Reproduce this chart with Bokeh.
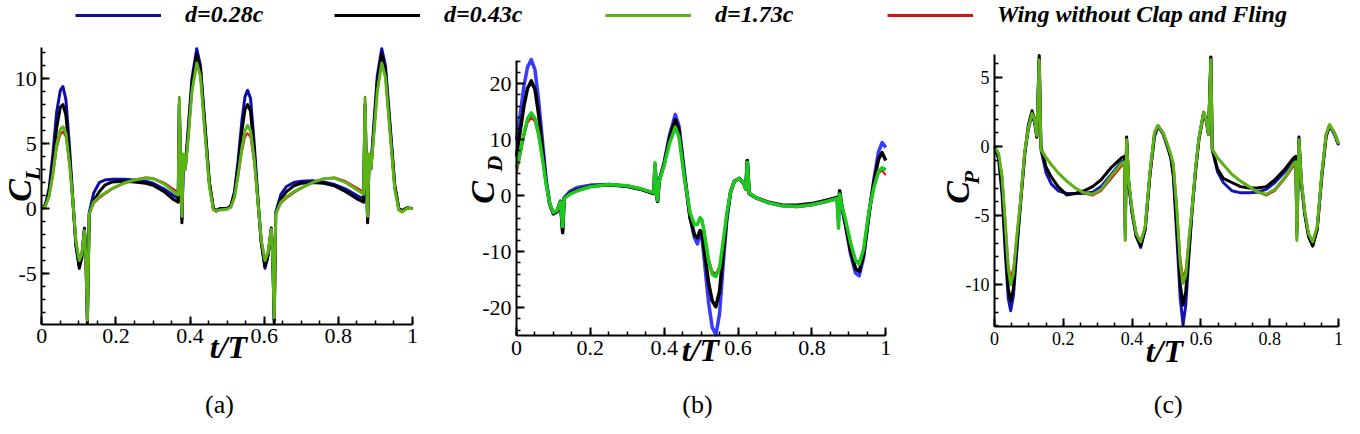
from bokeh.plotting import figure
from bokeh.layouts import column, row
from bokeh.models import (Range1d, SingleIntervalTicker, Label, Legend, LegendItem,
                          CustomJSTickFormatter)
from bokeh.embed import file_html
from bokeh.resources import INLINE

# ---------------- data ----------------
series_names = ["d=0.28c", "d=0.43c", "d=1.73c", "Wing without Clap and Fling"]

# (a) lift coefficient C_L
t_cl = [0.000, 0.010, 0.020, 0.030, 0.040, 0.050, 0.057, 0.065, 0.075, 0.084,
        0.092, 0.101, 0.108, 0.115, 0.119, 0.123, 0.128, 0.140, 0.155, 0.170,
        0.190, 0.220, 0.250, 0.280, 0.300, 0.330, 0.355, 0.368, 0.371, 0.375,
        0.378, 0.382, 0.387, 0.395, 0.405, 0.418, 0.428, 0.440, 0.452, 0.463,
        0.470, 0.480, 0.500, 0.510, 0.520, 0.530, 0.540, 0.548, 0.555, 0.563,
        0.573, 0.583, 0.592, 0.602, 0.610, 0.619, 0.623, 0.627, 0.631, 0.645,
        0.660, 0.680, 0.700, 0.730, 0.760, 0.790, 0.820, 0.850, 0.868, 0.872,
        0.876, 0.879, 0.883, 0.888, 0.895, 0.905, 0.917, 0.927, 0.940, 0.952,
        0.963, 0.972, 0.985, 1.000]
cl_d028 = [0.0, 0.3, 1.6, 4.2, 7.4, 9.1, 9.4, 8.4, 4.6, 0.6,
           -2.8, -4.4, -3.6, -1.5, -3.5, -8.6, -0.3, 1.2, 2.0, 2.2,
           2.25, 2.25, 2.2, 2.1, 1.95, 1.5, 1.0, 0.8, 8.0, 2.0,
           -0.8, 4.0, 3.2, 6.2, 10.0, 12.3, 11.0, 6.5, 2.0, 0.0,
           -0.2, -0.05, 0.0, 0.2, 1.3, 3.8, 6.8, 8.6, 9.1, 8.5,
           5.0, 0.8, -2.6, -4.6, -3.7, -1.6, -3.7, -8.6, -0.3, 1.1,
           1.7, 2.0, 2.1, 2.15, 2.05, 1.85, 1.5, 1.0, 0.75, 8.0,
           2.0, -0.8, 4.0, 3.2, 6.2, 10.2, 12.3, 11.0, 6.3, 1.8,
           0.0, -0.2, 0.05, 0.0]
cl_d043 = [0.0, 0.3, 1.3, 3.5, 6.2, 7.8, 8.0, 7.2, 4.0, 0.5,
           -2.8, -4.6, -3.8, -1.6, -4.0, -8.8, -0.4, 0.6, 1.3, 1.8,
           2.05, 2.1, 2.05, 1.95, 1.8, 1.3, 0.7, 0.5, 8.0, 2.0,
           -1.1, 4.0, 3.1, 5.8, 9.6, 11.9, 10.7, 6.3, 2.0, 0.0,
           -0.15, 0.0, 0.0, 0.2, 1.2, 3.4, 6.0, 7.6, 8.0, 7.5,
           4.4, 0.6, -2.6, -4.4, -3.6, -1.5, -3.8, -8.8, -0.4, 0.7,
           1.3, 1.75, 1.95, 2.0, 1.95, 1.75, 1.3, 0.75, 0.5, 8.0,
           2.0, -1.1, 4.0, 3.1, 5.8, 9.7, 11.9, 10.6, 6.0, 1.8,
           0.0, -0.15, 0.05, 0.0]
cl_d173 = [0.0, 0.2, 1.0, 2.7, 4.9, 6.1, 6.3, 5.8, 3.4, 0.5,
           -2.5, -4.0, -3.5, -1.7, -4.0, -8.6, -0.4, 0.5, 0.9, 1.2,
           1.55, 1.95, 2.2, 2.35, 2.3, 1.9, 1.3, 1.05, 8.5, 2.2,
           -0.6, 4.2, 3.0, 5.4, 9.0, 11.2, 10.2, 5.8, 1.7, -0.1,
           -0.2, -0.1, -0.05, 0.1, 0.9, 2.7, 4.7, 6.0, 6.4, 6.0,
           3.8, 0.5, -2.4, -4.0, -3.4, -1.6, -3.8, -8.4, -0.4, 0.5,
           0.9, 1.3, 1.6, 2.0, 2.3, 2.35, 2.0, 1.45, 1.1, 8.5,
           2.2, -0.6, 4.2, 3.0, 5.4, 9.0, 11.2, 10.1, 5.6, 1.5,
           -0.1, -0.25, 0.0, 0.0]
cl_nocf = [0.0, 0.2, 0.9, 2.5, 4.6, 5.7, 5.95, 5.5, 3.2, 0.4,
           -2.5, -3.9, -3.5, -1.7, -4.0, -8.6, -0.4, 0.4, 0.8, 1.1,
           1.5, 1.9, 2.2, 2.4, 2.35, 2.0, 1.5, 1.25, 8.6, 2.2,
           -0.6, 4.2, 3.0, 5.4, 9.0, 11.2, 10.2, 5.8, 1.7, -0.1,
           -0.2, -0.1, 0.0, 0.1, 0.9, 2.5, 4.4, 5.5, 5.8, 5.5,
           3.5, 0.4, -2.4, -3.9, -3.4, -1.6, -3.8, -8.4, -0.4, 0.4,
           0.8, 1.2, 1.55, 2.0, 2.3, 2.4, 2.1, 1.6, 1.3, 8.6,
           2.2, -0.6, 4.2, 3.0, 5.4, 9.0, 11.2, 10.1, 5.6, 1.5,
           -0.1, -0.25, 0.0, 0.0]

# (b) drag coefficient C_D
t_cd = [0.000, 0.010, 0.020, 0.030, 0.040, 0.050, 0.060, 0.070, 0.080, 0.090,
        0.100, 0.110, 0.119, 0.125, 0.129, 0.145, 0.165, 0.200, 0.250, 0.300,
        0.340, 0.372, 0.375, 0.379, 0.382, 0.386, 0.400, 0.415, 0.430, 0.440,
        0.455, 0.470, 0.482, 0.490, 0.497, 0.502, 0.507, 0.520, 0.530, 0.540,
        0.550, 0.560, 0.570, 0.580, 0.590, 0.603, 0.615, 0.621, 0.625, 0.630,
        0.650, 0.680, 0.720, 0.760, 0.800, 0.840, 0.868, 0.872, 0.875, 0.880,
        0.890, 0.905, 0.918, 0.928, 0.940, 0.955, 0.968, 0.980, 0.990, 1.000]
cd_d028 = [10.0, 14.5, 19.5, 23.0, 24.3, 22.5, 17.0, 10.0, 3.0, -1.5,
           -3.2, -2.7, -1.0, -6.0, -0.4, 0.8, 1.5, 1.9, 2.0, 1.7,
           1.1, 0.4, 5.5, 0.5, -1.0, 2.5, 6.0, 11.0, 14.5, 12.5,
           4.0, -4.0, -7.5, -8.6, -6.5, -7.5, -10.5, -19.0, -23.5, -24.8,
           -21.0, -12.0, -4.0, 0.8, 2.6, 3.1, 2.2, 1.2, 6.3, 0.4,
           -0.4, -1.2, -1.8, -1.9, -1.6, -1.0, -0.5, -4.5, 0.5, -1.6,
           -5.0, -10.5, -13.8, -14.3, -11.0, -3.0, 3.0, 7.8, 9.5, 8.6]
cd_d043 = [7.0, 11.5, 16.0, 19.2, 20.5, 19.0, 14.5, 8.5, 2.5, -1.5,
           -3.2, -2.8, -1.0, -6.6, -0.4, 0.5, 1.1, 1.7, 1.95, 1.7,
           1.1, 0.4, 5.5, 0.5, -1.0, 2.5, 5.8, 10.5, 13.6, 11.8,
           3.5, -3.8, -7.0, -7.5, -6.2, -6.6, -9.0, -15.5, -18.8, -19.8,
           -17.0, -10.0, -3.5, 0.8, 2.6, 3.1, 2.2, 1.2, 6.3, 0.4,
           -0.4, -1.1, -1.7, -1.7, -1.4, -0.8, -0.3, -3.0, 0.9, -1.5,
           -4.8, -10.0, -13.0, -13.5, -10.5, -3.0, 2.5, 6.5, 7.7, 6.3]
cd_d173 = [5.0, 7.8, 11.0, 13.8, 14.8, 13.8, 11.0, 6.8, 2.2, -1.4,
           -3.0, -2.6, -1.1, -5.5, -0.5, 0.3, 0.9, 1.6, 2.0, 1.8,
           1.2, 0.5, 5.9, 0.5, -0.8, 2.5, 5.5, 9.5, 12.2, 10.5,
           3.0, -3.0, -5.2, -5.1, -3.9, -4.3, -6.0, -11.5, -14.0, -14.4,
           -12.8, -8.0, -3.0, 0.8, 2.6, 3.1, 2.2, 1.2, 6.0, 0.5,
           -0.4, -1.2, -1.8, -1.9, -1.6, -1.0, -0.5, -5.8, 0.3, -1.6,
           -4.0, -8.5, -11.5, -12.2, -9.5, -2.5, 1.5, 4.3, 5.0, 4.6]
cd_nocf = [4.0, 7.0, 10.5, 13.0, 14.0, 13.2, 10.5, 6.5, 2.0, -1.5,
           -3.0, -2.6, -1.1, -5.5, -0.5, 0.3, 0.9, 1.6, 2.0, 1.8,
           1.2, 0.5, 5.9, 0.5, -0.8, 2.5, 5.5, 9.5, 12.5, 10.5,
           3.0, -3.0, -5.2, -5.0, -3.8, -4.5, -6.0, -11.0, -13.5, -13.9,
           -12.5, -8.0, -3.0, 0.8, 2.6, 3.1, 2.2, 1.2, 6.0, 0.5,
           -0.4, -1.2, -1.8, -2.0, -1.7, -1.1, -0.6, -5.8, 0.3, -1.6,
           -4.0, -8.5, -11.5, -11.8, -9.5, -2.5, 1.5, 4.0, 4.5, 3.7]

# (c) power coefficient C_P
t_cp = [0.000, 0.012, 0.022, 0.032, 0.040, 0.047, 0.055, 0.065, 0.076, 0.088,
        0.098, 0.109, 0.116, 0.123, 0.130, 0.135, 0.150, 0.165, 0.185, 0.210,
        0.235, 0.260, 0.285, 0.310, 0.340, 0.370, 0.378, 0.380, 0.384, 0.390,
        0.400, 0.412, 0.425, 0.438, 0.452, 0.465, 0.475, 0.490, 0.505, 0.513,
        0.520, 0.530, 0.540, 0.548, 0.556, 0.565, 0.575, 0.585, 0.594, 0.608,
        0.616, 0.622, 0.629, 0.633, 0.648, 0.665, 0.690, 0.715, 0.740, 0.765,
        0.790, 0.815, 0.845, 0.870, 0.876, 0.879, 0.885, 0.892, 0.902, 0.913,
        0.925, 0.938, 0.952, 0.964, 0.974, 0.988, 1.000]
cp_d028 = [0.0, -0.9, -3.5, -8.0, -11.0, -11.9, -10.8, -7.5, -4.0, -0.5,
           1.2, 2.3, 1.8, 0.7, 6.4, -0.2, -1.9, -2.7, -3.2, -3.4,
           -3.4, -3.4, -3.3, -2.9, -2.0, -1.1, -1.0, -6.5, 0.5, -2.6,
           -4.8, -6.5, -7.3, -6.0, -2.0, 0.7, 1.5, 0.9, -0.2, -0.9,
           -2.2, -6.5, -11.0, -12.9, -11.5, -8.0, -4.4, -1.6, 0.5, 2.4,
           1.8, 0.9, 6.4, -0.2, -1.8, -2.6, -3.2, -3.35, -3.35, -3.3,
           -3.1, -2.6, -1.8, -1.0, -0.9, -6.5, 0.5, -2.6, -4.9, -6.5,
           -7.2, -6.0, -2.0, 0.7, 1.55, 0.9, 0.1]
cp_d043 = [0.0, -0.8, -3.0, -7.3, -10.3, -11.2, -10.3, -7.2, -4.0, -0.5,
           1.5, 2.6, 2.0, 0.7, 6.6, 0.0, -1.5, -2.2, -2.9, -3.5,
           -3.4, -3.2, -2.9, -2.4, -1.5, -0.8, -0.7, -6.0, 0.7, -2.6,
           -4.8, -6.5, -7.2, -6.0, -2.0, 0.9, 1.5, 1.0, -0.1, -0.8,
           -2.0, -5.8, -10.0, -11.5, -10.5, -7.6, -4.4, -1.6, 0.5, 2.5,
           1.9, 0.9, 6.5, -0.2, -1.6, -2.3, -2.6, -2.9, -3.0, -3.0,
           -2.9, -2.4, -1.6, -0.8, -0.7, -6.0, 0.7, -2.6, -4.9, -6.5,
           -7.2, -6.0, -2.0, 0.8, 1.5, 1.0, 0.2]
cp_d173 = [0.0, -0.5, -2.2, -5.8, -8.8, -10.0, -9.2, -6.5, -3.8, -0.3,
           1.3, 2.4, 2.0, 0.8, 6.3, -0.2, -0.8, -1.3, -1.9, -2.5,
           -3.0, -3.35, -3.45, -3.1, -2.1, -1.2, -1.1, -6.8, 0.5, -2.4,
           -4.6, -6.3, -6.9, -5.8, -1.8, 1.0, 1.55, 1.0, 0.0, -0.6,
           -1.4, -4.6, -8.5, -9.9, -9.3, -6.8, -4.3, -1.4, 0.6, 2.5,
           1.9, 0.9, 6.3, -0.2, -0.8, -1.3, -2.0, -2.5, -2.9, -3.3,
           -3.45, -3.1, -2.2, -1.2, -1.1, -6.8, 0.5, -2.4, -4.7, -6.3,
           -6.9, -5.8, -1.8, 0.9, 1.6, 1.0, 0.2]
cp_nocf = [0.0, -0.5, -2.0, -5.5, -8.5, -9.5, -8.8, -6.3, -3.8, -0.3,
           1.3, 2.4, 2.0, 0.8, 6.3, -0.2, -0.8, -1.3, -1.9, -2.5,
           -3.0, -3.4, -3.55, -3.2, -2.3, -1.4, -1.3, -6.8, 0.5, -2.4,
           -4.6, -6.3, -6.9, -5.8, -1.8, 1.0, 1.55, 1.0, 0.0, -0.6,
           -1.2, -4.2, -8.0, -9.5, -8.9, -6.6, -4.2, -1.4, 0.6, 2.5,
           1.9, 0.9, 6.3, -0.2, -0.8, -1.3, -2.0, -2.5, -2.9, -3.3,
           -3.55, -3.2, -2.3, -1.4, -1.3, -6.8, 0.5, -2.4, -4.7, -6.3,
           -6.9, -5.8, -1.8, 0.9, 1.6, 1.0, 0.2]

# ---------------- layout / styling ----------------
SERIF = "Liberation Serif"
RED = "#e01010"
BLACK = "#000000"
PAGE = 8          # page margin
LEG_H = 28        # legend strip height
ROW_H = 390       # panel row height
ROW_TOP = PAGE + LEG_H

FMT = CustomJSTickFormatter(code="return String(Math.round(tick * 1000) / 1000);")


def make_panel(t, ys, yr, y_int, canvas_x, width, frame, tick_px, colors, lws):
    """frame = (left, right, top, bottom) in page pixels where the axes box lies."""
    L, R, T, B = frame
    cl = canvas_x + PAGE
    xs = 1.0 / (R - L)
    ys_ = (yr[1] - yr[0]) / (B - T)
    x_range = Range1d(0 - (L - cl) * xs, 1 + (cl + width - R) * xs)
    y_range = Range1d(yr[0] - (ROW_TOP + ROW_H - B) * ys_, yr[1] + (T - ROW_TOP) * ys_)
    p = figure(width=width, height=ROW_H, x_range=x_range, y_range=y_range,
               output_backend="svg", toolbar_location=None, title=None,
               min_border_left=0, min_border_right=0, min_border_top=0, min_border_bottom=0)
    p.grid.visible = False
    p.outline_line_color = None
    p.background_fill_color = "white"
    p.border_fill_color = "white"
    xa, ya = p.xaxis[0], p.yaxis[0]
    xa.ticker = SingleIntervalTicker(interval=0.2, num_minor_ticks=4)
    ya.ticker = SingleIntervalTicker(interval=y_int, num_minor_ticks=5)
    xa.fixed_location = yr[0]
    ya.fixed_location = 0
    xa.bounds = (0, 1)
    ya.bounds = yr
    for ax in (xa, ya):
        ax.formatter = FMT
        ax.axis_line_width = 2
        ax.axis_line_color = "black"
        ax.major_tick_in = 8
        ax.major_tick_out = 0
        ax.minor_tick_in = 4
        ax.minor_tick_out = 0
        ax.major_tick_line_width = 2
        ax.minor_tick_line_width = 1.5
        ax.major_tick_line_color = "black"
        ax.minor_tick_line_color = "black"
        ax.major_label_text_font = SERIF
        ax.major_label_text_font_size = f"{tick_px}px"
        ax.major_label_text_color = "black"
        ax.major_label_standoff = 5
    for y, c, lw in zip(ys, colors, lws):
        p.line(t, y, line_color=c, line_width=lw, line_join="round")
    return p


def add_text(p, ref, yr, px, py, text, size, style="bold italic", angle=0.0):
    """place a text at page pixel (px, py) of the reference axes box `ref`."""
    L, R, T, B = ref
    x = (px - L) / (R - L)
    y = yr[0] + (B - py) / (B - T) * (yr[1] - yr[0])
    p.add_layout(Label(x=x, y=y, text=text, text_font=SERIF, text_font_size=f"{size}px",
                       text_font_style=style, angle=angle, text_align="center",
                       text_baseline="middle", text_color="black"))


ROT = 1.5708

# panel (a)  canvas: content x 0..460
yr_a = (-8.9, 12.4)
box_a = (49.3, 420.0, 55.0, 331.7)
pa = make_panel(t_cl, [cl_d028, cl_d043, cl_nocf, cl_d173], yr_a, 5, 0, 460, box_a, 22,
                ["#0c0ca8", BLACK, RED, "#5cb318"], [3, 3, 2, 3])
add_text(pa, box_a, yr_a, 27, 198, "C", 34, angle=ROT)
add_text(pa, box_a, yr_a, 40, 181, "L", 22, angle=ROT)
add_text(pa, box_a, yr_a, 236, 354, "t/T", 32)
add_text(pa, box_a, yr_a, 227, 412, "(a)", 26, style="normal")

# panel (b)  canvas: content x 460..935
yr_b = (-25.0, 24.2)
box_b = (524.0, 893.3, 67.7, 343.3)
pb = make_panel(t_cd, [cd_d028, cd_d043, cd_nocf, cd_d173], yr_b, 10, 460, 475, box_b, 22,
                ["#3838ff", BLACK, RED, "#1ec81e"], [3.5, 3.5, 2, 3.5])
add_text(pb, box_b, yr_b, 490, 200, "C", 34, angle=ROT)
add_text(pb, box_b, yr_b, 502, 171, "D", 22, angle=ROT)
add_text(pb, box_b, yr_b, 708, 357, "t/T", 32)
add_text(pb, box_b, yr_b, 705, 412, "(b)", 26, style="normal")

# panel (c)  canvas: content x 935..1344 (slightly narrower box so that it fits the window)
yr_c = (-13.06, 6.7)
ref_c = (1006.7, 1357.7, 61.7, 334.3)
box_c = (1002.0, 1346.0, 61.7, 334.3)
pc = make_panel(t_cp, [cp_d028, cp_d043, cp_nocf, cp_d173], yr_c, 5, 935, 409, box_c, 18,
                ["#1414b4", BLACK, RED, "#5cb318"], [3, 3, 2, 3])
add_text(pc, ref_c, yr_c, 969, 200, "C", 34, angle=ROT)
add_text(pc, ref_c, yr_c, 983, 185, "P", 22, angle=ROT)
add_text(pc, ref_c, yr_c, 1180, 358, "t/T", 32)
add_text(pc, ref_c, yr_c, 1184, 412, "(c)", 26, style="normal")

# legend strip
lf = figure(width=1344, height=LEG_H, x_range=Range1d(0, 1), y_range=Range1d(0, 1),
            output_backend="svg", toolbar_location=None, title=None,
            x_axis_type=None, y_axis_type=None,
            min_border_left=0, min_border_right=0, min_border_top=0, min_border_bottom=0)
lf.grid.visible = False
lf.outline_line_color = None
leg_colors = ["#0c0ca8", BLACK, "#5cb318", RED]
leg_x = [75, 334, 605, 887]
for name, c, lx in zip(series_names, leg_colors, leg_x):
    r = lf.line(x=[float("nan")], y=[float("nan")], line_color=c, line_width=3)
    lg = Legend(items=[LegendItem(label=name, renderers=[r])], location=(lx, 0),
                orientation="horizontal", glyph_width=86, glyph_height=20, label_standoff=24,
                padding=0, margin=0, border_line_color=None, background_fill_alpha=0,
                label_text_font=SERIF, label_text_font_style="bold italic",
                label_text_font_size="24px", label_text_color="black", label_height=20)
    lf.add_layout(lg)

layout = column(lf, row(pa, pb, pc))
open("out.html", "w").write(file_html(layout, INLINE))
